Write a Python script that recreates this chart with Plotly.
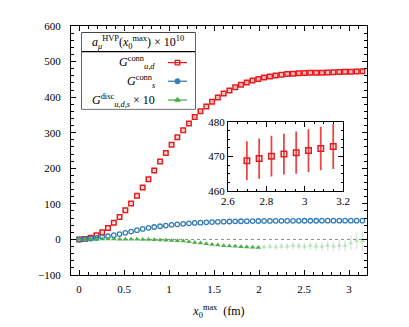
import plotly.graph_objects as go

# ---- data ----
x0max = [0.000, 0.064, 0.129, 0.193, 0.257, 0.321, 0.386, 0.450, 0.514, 0.578,
         0.643, 0.707, 0.771, 0.835, 0.900, 0.964, 1.028, 1.092, 1.157, 1.221,
         1.285, 1.349, 1.414, 1.478, 1.542, 1.607, 1.671, 1.735, 1.799, 1.864,
         1.928, 1.992, 2.056, 2.121, 2.185, 2.249, 2.313, 2.378, 2.442, 2.506,
         2.570, 2.635, 2.699, 2.763, 2.827, 2.892, 2.956, 3.020, 3.084, 3.149]

conn_ud = [0, 1, 5, 12, 20, 32, 47, 63, 82, 101,
           123, 146, 169, 194, 219, 243, 266, 287, 307, 326,
           344, 360, 374, 387, 399, 410, 419, 428, 435, 441,
           447, 451, 455, 458, 461, 463, 465, 466, 467, 467.8,
           468.3, 468.7, 468.8, 469.4, 470.1, 470.7, 471.1, 471.7, 472.3, 472.9]
conn_ud_err = [0, 0.1, 0.2, 0.3, 0.4, 0.5, 0.6, 0.7, 0.8, 0.9,
               1.0, 1.1, 1.2, 1.4, 1.5, 1.7, 1.8, 2.0, 2.2, 2.4,
               2.6, 2.8, 3.0, 3.2, 3.4, 3.6, 3.8, 4.0, 4.2, 4.4,
               4.5, 4.7, 4.8, 4.9, 5.0, 5.1, 5.2, 5.3, 5.4, 5.5,
               5.5, 5.6, 5.6, 5.8, 5.9, 5.9, 6.1, 6.2, 6.3, 6.5]

conn_s = [0, 0.8, 2.2, 4, 6.5, 9, 12, 15, 18.5, 22,
          26, 29.5, 32.5, 35, 37, 39, 41, 42.6, 44, 45.2,
          46.3, 47.2, 48, 48.8, 49.4, 50, 50.4, 50.8, 51.1, 51.4,
          51.6, 51.8, 52, 52.1, 52.2, 52.3, 52.3, 52.4, 52.4, 52.5,
          52.5, 52.5, 52.6, 52.6, 52.6, 52.6, 52.7, 52.7, 52.7, 52.7]

disc_solid = [0, 0.3, 0.6, 0.8, 1.0, 1.0, 1.0, 0.8, 0.6, 0.4,
              0.2, 0, -0.3, -0.8, -1.3, -2, -3, -3.7, -4.6, -6.5,
              -8.3, -10, -12, -14, -15.7, -17.6, -18.5, -19.4, -20.4, -21.3,
              -22, -23]
disc_faded = [-21, -20, -21, -19, -20, -18, -19, -20, -18, -19,
              -20, -18, -19, -17, -18, -10, -4, -5]
disc_faded_err = [7, 7.5, 8, 8.5, 9, 9.5, 10, 10.5, 11, 12,
                  13, 13.5, 14, 15, 16, 20, 24, 28]

x_ticks = [0, 0.5, 1, 1.5, 2, 2.5, 3]
y_ticks = [-100, 0, 100, 200, 300, 400, 500, 600]
inset_x_ticks = [2.6, 2.8, 3, 3.2]
inset_y_ticks = [460, 470, 480]
inset_first = 42

RED = "#e41a1c"
BLUE = "#377eb8"
GREEN = "#4daf4a"
FONT = "Liberation Serif"

n_solid = len(disc_solid)
fig = go.Figure()

fig.add_trace(go.Scatter(
    x=x0max, y=conn_ud, mode="markers",
    error_y=dict(type="data", array=conn_ud_err, color="rgba(228,26,28,0.35)", thickness=2, width=0),
    marker=dict(symbol="square-open", size=4.5, color=RED, line=dict(width=1.5, color=RED)),
    showlegend=False))
fig.add_trace(go.Scatter(
    x=x0max, y=conn_s, mode="markers",
    marker=dict(symbol="circle-open", size=4.5, color=BLUE, line=dict(width=1.3, color=BLUE)),
    showlegend=False))
fig.add_trace(go.Scatter(
    x=x0max[:n_solid], y=disc_solid, mode="markers",
    marker=dict(symbol="triangle-up", size=5, color=GREEN),
    showlegend=False))
fig.add_trace(go.Scatter(
    x=x0max[n_solid:], y=disc_faded, mode="markers",
    error_y=dict(type="data", array=disc_faded_err, color="rgba(77,175,74,0.22)", thickness=1.5, width=0),
    marker=dict(symbol="triangle-up", size=5, color="rgba(77,175,74,0.25)"),
    showlegend=False))

# inset
fig.add_trace(go.Scatter(
    x=x0max[inset_first:], y=conn_ud[inset_first:], mode="markers",
    xaxis="x2", yaxis="y2",
    error_y=dict(type="data", array=conn_ud_err[inset_first:], color="rgba(228,26,28,0.8)", thickness=1.8, width=0),
    marker=dict(symbol="square-open", size=5.5, color=RED, line=dict(width=1.5, color=RED)),
    showlegend=False))

# legend samples on an overlay axis
leg_y = [0.61, 0.364, 0.117]
leg_cols = [RED, BLUE, GREEN]
leg_syms = ["square-open", "circle", "triangle-up"]
for yy, c, s in zip(leg_y, leg_cols, leg_syms):
    fig.add_trace(go.Scatter(
        x=[0.761, 0.845, 0.929], y=[yy, yy, yy], mode="lines",
        xaxis="x3", yaxis="y3", line=dict(color=c, width=1.3), showlegend=False, hoverinfo="skip"))
    fig.add_trace(go.Scatter(
        x=[0.845], y=[yy], mode="markers",
        xaxis="x3", yaxis="y3",
        marker=dict(symbol=s, size=4.5, color=c, line=dict(width=1.3, color=c)),
        showlegend=False, hoverinfo="skip"))

axis_common = dict(
    showline=True, linecolor="black", linewidth=1, mirror="ticks",
    ticks="inside", ticklen=5, tickcolor="black", tickwidth=1,
    showgrid=False, zeroline=False,
    tickfont=dict(family=FONT, size=11, color="black"),
)

fig.update_layout(
    width=409, height=327,
    margin=dict(l=63, r=50, t=15, b=60),
    paper_bgcolor="white", plot_bgcolor="white",
    xaxis=dict(range=[-0.09, 3.2], tickvals=x_ticks, ticktext=[str(v) for v in x_ticks],
               ticklabelstandoff=4,
               minor=dict(dtick=0.1, ticks="inside", ticklen=3, tickcolor="black", showgrid=False),
               title=dict(text="<i>x</i><sub>0</sub><sup>max</sup>  (fm)",
                          font=dict(family=FONT, size=12, color="black"), standoff=12),
               **axis_common),
    yaxis=dict(range=[-100, 600], tickvals=y_ticks,
               ticktext=["\u2212100" if v < 0 else str(v) for v in y_ticks],
               ticklabelstandoff=7,
               minor=dict(dtick=20, ticks="inside", ticklen=3, tickcolor="black", showgrid=False),
               **axis_common),
    xaxis2=dict(domain=[0.530, 0.919], anchor="y2", range=[2.6, 3.2], tickvals=inset_x_ticks,
                ticktext=[str(v) for v in inset_x_ticks],
                minor=dict(dtick=0.05, ticks="inside", ticklen=2.5, tickcolor="black", showgrid=False),
                **axis_common),
    yaxis2=dict(domain=[0.337, 0.615], anchor="x2", range=[460, 480], tickvals=inset_y_ticks,
                minor=dict(dtick=2.5, ticks="inside", ticklen=2.5, tickcolor="black", showgrid=False),
                **axis_common),
    xaxis3=dict(domain=[0.037, 0.419], anchor="y3", range=[0, 1], visible=False, fixedrange=True),
    yaxis3=dict(domain=[0.667, 0.972], anchor="x3", range=[0, 1], visible=False, fixedrange=True),
)

# zero dotted line
fig.add_shape(type="line", xref="x", yref="y", x0=-0.09, x1=3.2, y0=0, y1=0,
              line=dict(color="#888888", width=1, dash="dot"), layer="below")

# legend box
fig.add_shape(type="rect", xref="paper", yref="paper", x0=0.037, x1=0.419, y0=0.667, y1=0.972,
              line=dict(color="black", width=1.2), fillcolor="white", layer="below")
fig.add_shape(type="line", xref="paper", yref="paper", x0=0.037, x1=0.419, y0=0.897, y1=0.897,
              line=dict(color="black", width=1.2))

fig.add_annotation(xref="paper", yref="paper", x=0.228, y=0.9345, showarrow=False,
                   xanchor="center", yanchor="middle",
                   text="<i>a</i><sub><i>\u03bc</i></sub><sup>HVP</sup>(<i>x</i><sub>0</sub><sup>max</sup>) \u00d7 10<sup>10</sup>",
                   font=dict(family=FONT, size=12, color="black"))
labels = ["<i>G</i><sup>conn</sup><sub><i>u,d</i></sub>",
          "<i>G</i><sup>conn</sup><sub><i>s</i></sub>",
          "<i>G</i><sup>disc</sup><sub><i>u,d,s</i></sub> \u00d7 10"]
label_y = [0.853, 0.778, 0.702]
for t, yy in zip(labels, label_y):
    fig.add_annotation(xref="paper", yref="paper", x=0.2905, y=yy, showarrow=False,
                       xanchor="right", yanchor="middle", text=t,
                       font=dict(family=FONT, size=12, color="black"))

fig.write_html("out.html")
